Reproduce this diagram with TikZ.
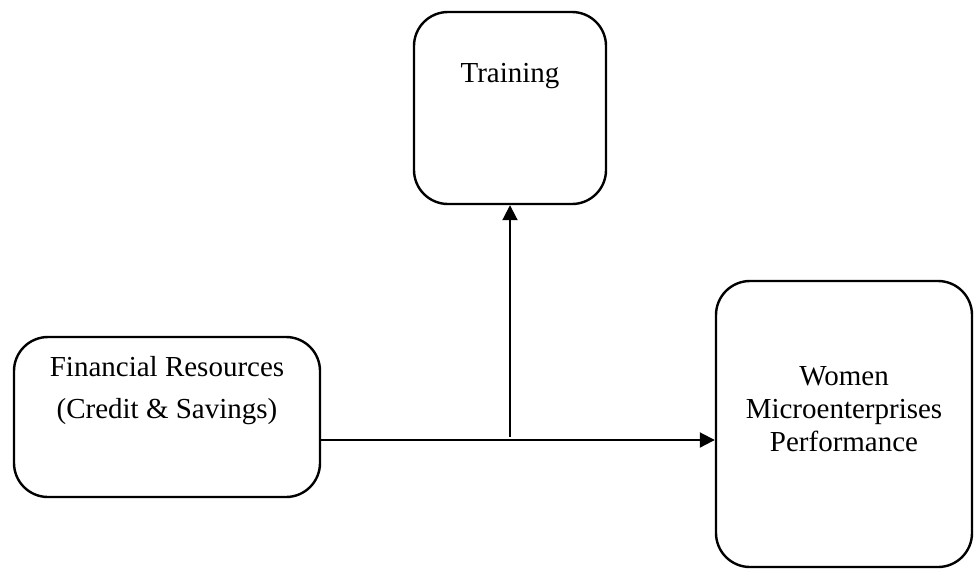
\documentclass[tikz,border=0pt]{standalone}
\usepackage{fontspec}
\setmainfont{Liberation Serif}
\usepackage{tikz}
\usetikzlibrary{arrows.meta}

\begin{document}
\begin{tikzpicture}[
  x=0.5pt, y=-0.5pt,
  box/.style={draw, line width=1.2pt, rounded corners=17pt, inner sep=0pt},
  txt/.style={align=center, font=\fontsize{14.5}{21}\selectfont},
  link/.style={line width=1pt, -{Triangle[length=7.5pt, width=7.5pt]}},
]

\useasboundingbox (0, 0) rectangle (974, 569);

\node[box, minimum width=96pt, minimum height=96pt] (training) at (510, 108) {};
\node[box, minimum width=153pt, minimum height=80pt] (finres) at (167, 417) {};
\node[box, minimum width=128pt, minimum height=143pt] (perf) at (844, 424) {};

\node[txt] (training-txt) at (510, 76) {Training};
\node[txt] (finres-txt) at (167, 391) {Financial Resources\\(Credit \& Savings)};
\node[txt, font=\fontsize{14.5}{16.5}\selectfont] (perf-txt) at (844, 409)
  {Women\\Microenterprises\\Performance};

\coordinate (split) at (510, 440);
\coordinate (base) at (510, 437);

\draw[link] (split -| finres.east) -- (split -| perf.west);
\draw[link] (base) -- (training.south);

\end{tikzpicture}
\end{document}
